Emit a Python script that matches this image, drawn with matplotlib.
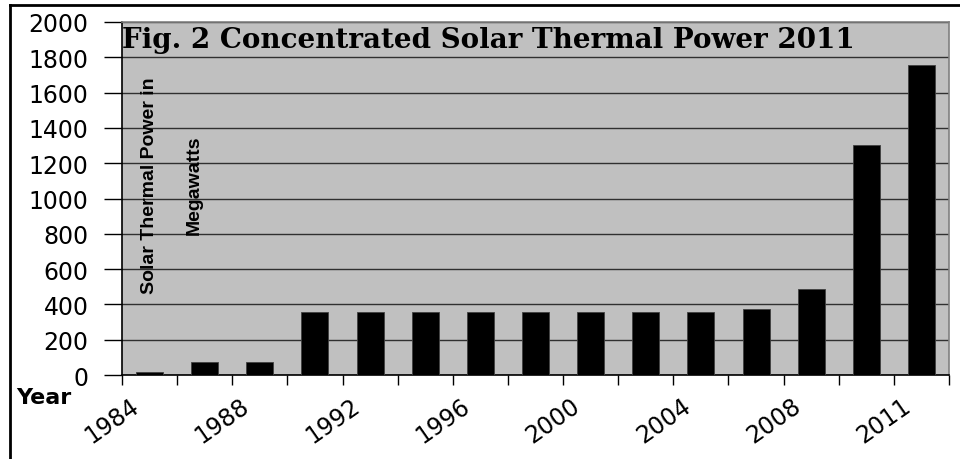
import numpy as np
import matplotlib
matplotlib.use("Agg")
from matplotlib import pyplot as plt
from matplotlib.lines import Line2D
import matplotlib.transforms as mtransforms

# data
years = ["1984", "1986", "1988", "1990", "1992", "1994", "1996", "1998",
         "2000", "2002", "2004", "2006", "2008", "2010", "2011"]
power_mw = [16, 74, 74, 355, 355, 355, 355, 355, 355, 355, 355, 372, 487, 1305, 1758]
shown_labels = years[::2]  # only every other year is labelled
y_ticks = list(range(0, 2001, 200))

title = "Fig. 2 Concentrated Solar Thermal Power 2011"
ylabel = "Solar Thermal Power in\nMegawatts"

fig = plt.figure(figsize=(9.6, 4.6), dpi=100)
ax = fig.add_axes([122/960, 1 - 376/460, (949-122)/960, (376-23)/460])
ax.set_facecolor("#c0c0c0")

x = np.arange(len(years))
ax.bar(x, power_mw, width=0.49, color="black", edgecolor="#404040", linewidth=0.6, zorder=3)

ax.set_xlim(-0.5, len(years) - 0.5)
ax.set_ylim(0, 2000)
ax.set_yticks(y_ticks)
ax.set_yticklabels([str(v) for v in y_ticks], fontsize=17, family="DejaVu Sans")
ax.tick_params(axis="y", direction="out", length=13, width=1, pad=11, color="black")
ax.grid(axis="y", color="#303030", linewidth=1, zorder=1)

# labels under every second bar, tick marks on category boundaries
ax.set_xticks(x[::2])
ax.set_xticklabels(shown_labels, rotation=35, ha="right", va="center",
                   rotation_mode="anchor", fontsize=17, family="DejaVu Sans")
ax.tick_params(axis="x", which="major", length=0, pad=20)
ax.set_xticks(np.arange(-0.5, len(years), 1), minor=True)
ax.tick_params(axis="x", which="minor", direction="out", length=7, width=1, color="black")
shift = mtransforms.ScaledTranslation(-0.13, 0, fig.dpi_scale_trans)
for lab in ax.get_xticklabels():
    lab.set_transform(lab.get_transform() + shift)

for s in ["top", "right"]:
    ax.spines[s].set_color("#808080")
    ax.spines[s].set_linewidth(1.2)
for s in ["left", "bottom"]:
    ax.spines[s].set_color("black")
    ax.spines[s].set_linewidth(1.2)

# title sits inside the plot area
ax.text(0.0, 0.99, title, transform=ax.transAxes, ha="left", va="top",
        fontsize=20, fontweight="bold", family="DejaVu Serif", zorder=4)

# axis label drawn inside the plot
ax.text(0.06, 0.54, ylabel, transform=ax.transAxes, rotation=90, ha="center", va="center",
        multialignment="center", linespacing=3.1, fontsize=14, fontweight="bold",
        family=["Liberation Sans", "DejaVu Sans"], zorder=4)

fig.text(16/960, 1 - 398/460, "Year", ha="left", va="center", fontsize=16,
         fontweight="bold", family="DejaVu Sans")

# outer frame (only top and left edges show)
fig.add_artist(Line2D([10/960, 1.0], [1 - 6/460, 1 - 6/460], color="black", linewidth=2))
fig.add_artist(Line2D([10/960, 10/960], [0.0, 1 - 6/460], color="black", linewidth=2))

fig.savefig("out.png", dpi=100)
